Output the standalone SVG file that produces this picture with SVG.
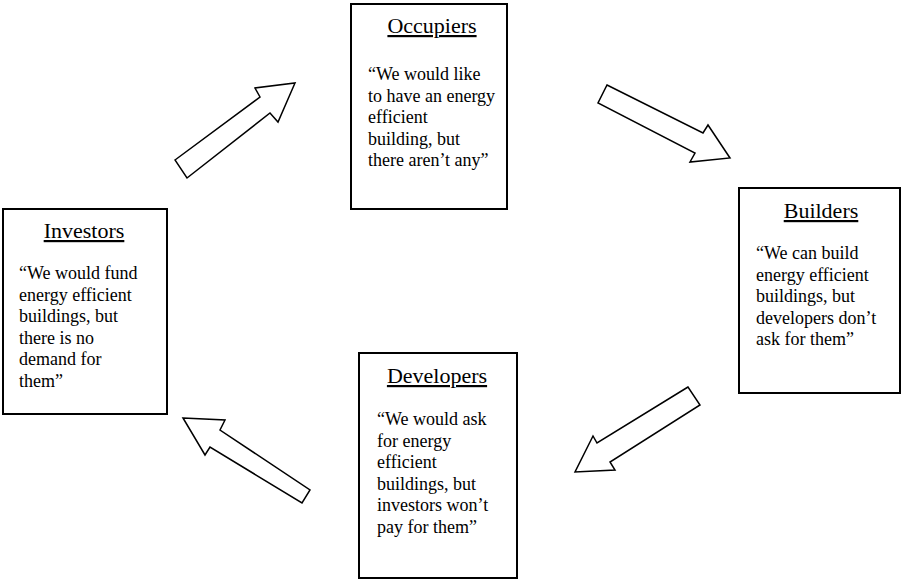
<svg xmlns="http://www.w3.org/2000/svg" width="902" height="580" viewBox="0 0 902 580">
<style>
.box{fill:#fff;stroke:#000;stroke-width:2}
.title{font-family:"Liberation Serif","Times New Roman",serif;font-size:22px;fill:#000;text-anchor:middle;text-decoration:underline}
.body{font-family:"Liberation Serif","Times New Roman",serif;font-size:18px;fill:#000}
.arrow{fill:#fff;stroke:#000;stroke-width:1.5;stroke-linejoin:miter}
</style>
<rect width="902" height="580" fill="#fff"/>
<g id="connectors">
<polygon class="arrow" points="175,160 260,97 255,88 295,83 278,122 270,113 187,178"/>
<polygon class="arrow" points="607,85 703,133 708,125 730,158 690,162 695,153 598,103"/>
<polygon class="arrow" points="688,387 597,443 593,436 575,472 615,470 610,462 700,405"/>
<polygon class="arrow" points="183,418 225,420 220,430 310,490 302,503 210,447 205,455"/>
</g>
<g id="occupiers">
<rect class="box" x="351" y="4" width="156" height="205"/>
<text class="title" x="432" y="33">Occupiers</text>
<text class="body"><tspan x="368" y="80">“We would like</tspan><tspan x="368" y="101.5">to have an energy</tspan><tspan x="368" y="123">efficient</tspan><tspan x="368" y="144.5">building, but</tspan><tspan x="368" y="166">there aren’t any”</tspan></text>
</g>
<g id="builders">
<rect class="box" x="739" y="188" width="161" height="205"/>
<text class="title" x="821" y="218">Builders</text>
<text class="body"><tspan x="756" y="259">“We can build</tspan><tspan x="756" y="280.5">energy efficient</tspan><tspan x="756" y="302">buildings, but</tspan><tspan x="756" y="323.5">developers don’t</tspan><tspan x="756" y="345">ask for them”</tspan></text>
</g>
<g id="developers">
<rect class="box" x="359" y="353" width="158" height="225"/>
<text class="title" x="437" y="383">Developers</text>
<text class="body"><tspan x="377" y="425">“We would ask</tspan><tspan x="377" y="446.5">for energy</tspan><tspan x="377" y="468">efficient</tspan><tspan x="377" y="489.5">buildings, but</tspan><tspan x="377" y="511">investors won’t</tspan><tspan x="377" y="532.5">pay for them”</tspan></text>
</g>
<g id="investors">
<rect class="box" x="3" y="209" width="164" height="205"/>
<text class="title" x="84" y="238">Investors</text>
<text class="body"><tspan x="19" y="279">“We would fund</tspan><tspan x="19" y="300.5">energy efficient</tspan><tspan x="19" y="322">buildings, but</tspan><tspan x="19" y="343.5">there is no</tspan><tspan x="19" y="365">demand for</tspan><tspan x="19" y="386.5">them”</tspan></text>
</g>
</svg>
